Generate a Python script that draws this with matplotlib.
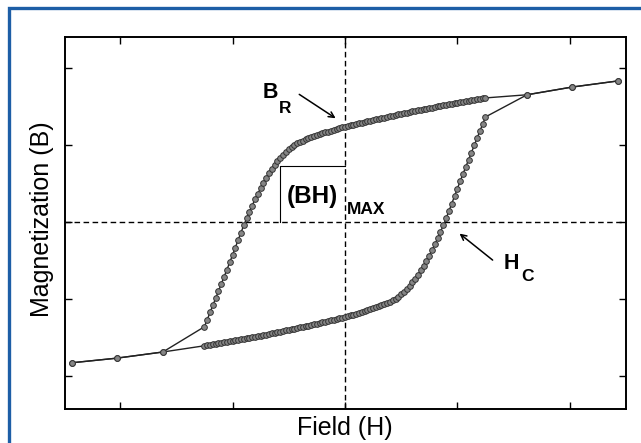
import matplotlib
matplotlib.use("Agg")
import matplotlib.pyplot as plt
from matplotlib.patches import Rectangle

plt.rcParams['font.family'] = ['Liberation Sans', 'DejaVu Sans']

# field grid of the dense measurement (same for both branches)
field_dense = [
    -1.25, -1.225, -1.2, -1.175, -1.15, -1.125, -1.1, -1.075, -1.05, -1.025,
    -1.0, -0.975, -0.95, -0.925, -0.9, -0.875, -0.85, -0.825, -0.8, -0.775,
    -0.75, -0.725, -0.7, -0.675, -0.65, -0.625, -0.6, -0.575, -0.55, -0.525,
    -0.5, -0.475, -0.45, -0.425, -0.4, -0.375, -0.35, -0.325, -0.3, -0.275,
    -0.25, -0.225, -0.2, -0.175, -0.15, -0.125, -0.1, -0.075, -0.05, -0.025,
    0.0,
    0.025, 0.05, 0.075, 0.1, 0.125, 0.15, 0.175, 0.2, 0.225, 0.25,
    0.275, 0.3, 0.325, 0.35, 0.375, 0.4, 0.425, 0.45, 0.475, 0.5,
    0.525, 0.55, 0.575, 0.6, 0.625, 0.65, 0.675, 0.7, 0.725, 0.75,
    0.775, 0.8, 0.825, 0.85, 0.875, 0.9, 0.925, 0.95, 0.975, 1.0,
    1.025, 1.05, 1.075, 1.1, 1.125, 1.15, 1.175, 1.2, 1.225, 1.25,
]

# descending branch (coming down from positive saturation)
upper_dense = [
    -1.362, -1.270, -1.177, -1.085, -0.992, -0.900, -0.807, -0.715, -0.622, -0.527,
    -0.431, -0.334, -0.236, -0.140, -0.046, 0.044, 0.130, 0.212, 0.291, 0.366,
    0.437, 0.504, 0.568, 0.628, 0.684, 0.736, 0.785, 0.830, 0.871, 0.908,
    0.942, 0.972, 0.998, 1.021, 1.040, 1.055, 1.070, 1.084, 1.098, 1.111,
    1.125, 1.137, 1.150, 1.161, 1.173, 1.184, 1.195, 1.205, 1.215, 1.225,
    1.234,
    1.243, 1.252, 1.261, 1.270, 1.278, 1.287, 1.296, 1.304, 1.313, 1.321,
    1.329, 1.338, 1.346, 1.354, 1.362, 1.370, 1.378, 1.386, 1.394, 1.402,
    1.410, 1.418, 1.425, 1.433, 1.440, 1.448, 1.455, 1.463, 1.470, 1.477,
    1.484, 1.491, 1.498, 1.505, 1.512, 1.519, 1.526, 1.533, 1.539, 1.546,
    1.553, 1.559, 1.566, 1.572, 1.578, 1.585, 1.591, 1.597, 1.603, 1.609,
]

# ascending branch (coming up from negative saturation)
lower_dense = [
    -1.609, -1.603, -1.597, -1.591, -1.585, -1.578, -1.572, -1.566, -1.559, -1.553,
    -1.546, -1.539, -1.533, -1.526, -1.519, -1.512, -1.505, -1.498, -1.491, -1.484,
    -1.477, -1.470, -1.463, -1.455, -1.448, -1.440, -1.433, -1.425, -1.418, -1.410,
    -1.402, -1.394, -1.386, -1.378, -1.370, -1.362, -1.354, -1.346, -1.338, -1.329,
    -1.321, -1.313, -1.304, -1.296, -1.287, -1.278, -1.270, -1.261, -1.252, -1.243,
    -1.234,
    -1.225, -1.215, -1.205, -1.195, -1.184, -1.173, -1.161, -1.150, -1.137, -1.125,
    -1.111, -1.098, -1.084, -1.070, -1.055, -1.040, -1.021, -0.998, -0.972, -0.942,
    -0.908, -0.871, -0.830, -0.785, -0.736, -0.684, -0.628, -0.568, -0.504, -0.437,
    -0.366, -0.291, -0.212, -0.130, -0.044, 0.046, 0.140, 0.236, 0.334, 0.431,
    0.527, 0.622, 0.715, 0.807, 0.900, 0.992, 1.085, 1.177, 1.270, 1.362,
]

# sparse points near saturation, shared by both branches
field_neg_tail = [-2.43, -2.03, -1.62]
mag_neg_tail = [-1.83, -1.77, -1.69]
field_pos_tail = [1.62, 2.02, 2.43]
mag_pos_tail = [1.65, 1.75, 1.83]

# (BH)max box corner
bh_field = -0.578
bh_mag = 0.72

ticks = [-2, -1, 0, 1, 2]

fig = plt.figure(figsize=(6.41, 4.43), dpi=100)
ax = fig.add_axes([65 / 641, 1 - 409 / 443, 561 / 641, 372 / 443])

field_all = field_neg_tail + field_dense + field_pos_tail
upper_all = mag_neg_tail + upper_dense + mag_pos_tail
lower_all = mag_neg_tail + lower_dense + mag_pos_tail

style = dict(color='#222222', lw=1.0, marker='o', markersize=4.1,
             markerfacecolor='#858585', markeredgecolor='#333333',
             markeredgewidth=0.7)
ax.plot(field_all, lower_all, **style)
ax.plot(field_all, upper_all, **style)

ax.axhline(0, color='black', lw=1.0, ls=(0, (4, 2.5)), zorder=1)
ax.axvline(0, color='black', lw=1.0, ls=(0, (4, 2.5)), zorder=1)

# (BH)max rectangle
ax.plot([bh_field, bh_field, 0], [0, bh_mag, bh_mag], color='black', lw=0.8)

ax.set_xlim(-2.49, 2.5)
ax.set_ylim(-2.43, 2.40)
ax.set_xticks(ticks)
ax.set_yticks(ticks)
ax.tick_params(direction='in', length=5, width=1, top=True, right=True,
               labelbottom=False, labelleft=False)
for s in ax.spines.values():
    s.set_linewidth(1.4)

bold = dict(fontweight='bold', color='black')
ax.text(-0.729, 1.61, 'B', fontsize=15.5, **bold)
ax.text(-0.59, 1.416, 'R', fontsize=12.5, **bold)
ax.annotate('', xy=(-0.062, 1.325), xytext=(-0.427, 1.675),
            arrowprops=dict(arrowstyle='->', lw=1.1, color='black'))

ax.text(-0.515, 0.243, '(BH)', fontsize=17.5, **bold)
ax.text(0.015, 0.104, 'MAX', fontsize=12.5, **bold)

ax.text(1.413, -0.61, 'H', fontsize=15.5, **bold)
ax.text(1.565, -0.766, 'C', fontsize=12.5, **bold)
ax.annotate('', xy=(1.0, -0.13), xytext=(1.333, -0.519),
            arrowprops=dict(arrowstyle='->', lw=1.1, color='black'))

fig.text(345 / 641, 1 - 428 / 443, 'Field (H)', ha='center', va='center',
         fontsize=18)
fig.text(42 / 641, 1 - 219.5 / 443, 'Magnetization (B)', ha='center',
         va='center', rotation=90, fontsize=18)

# blue frame (runs off the right and bottom edge)
fig.patches.append(Rectangle((8.5 / 641, -0.1), 1.2, 1.1 - 7.5 / 443,
                             transform=fig.transFigure, fill=False,
                             edgecolor='#1d5ea6', lw=2.4))

fig.savefig('out.png', dpi=100)
